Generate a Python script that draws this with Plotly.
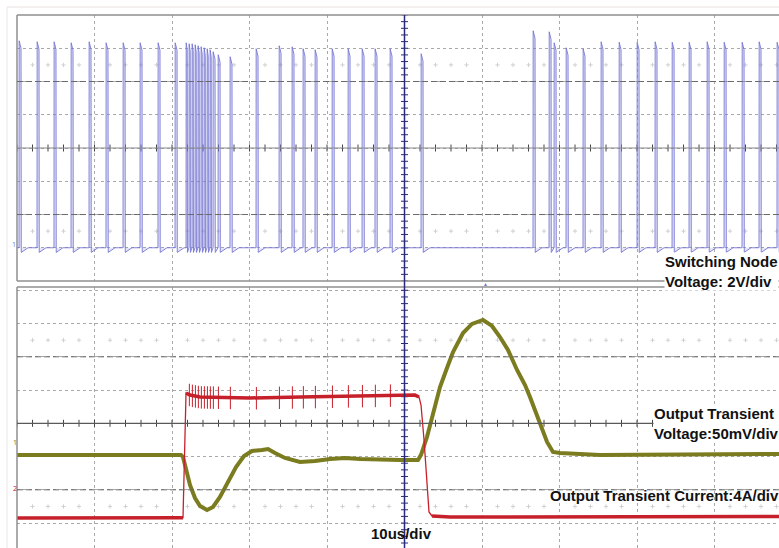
import plotly.graph_objects as go
import numpy as np

# ---------------- data (read from the scope capture) ----------------
# Switching node: pulse start times (us) and peak voltage (V), 2 V/div
sw_t_us = [0.26, 2.58, 4.77, 6.97, 9.29, 11.48, 13.68, 15.87, 18.19, 20.39,
           21.81, 22.19, 22.58, 22.97, 23.35, 23.74, 24.13, 24.52, 24.90, 25.29,
           25.94, 27.48, 30.84, 33.81, 35.48, 36.90, 38.45, 40.65, 42.71, 44.52,
           46.19, 48.13, 52.13, 66.58, 68.65, 69.29, 70.84, 73.03, 75.35, 77.68,
           80.00, 82.32, 84.52, 86.71, 89.03, 91.23, 93.55, 95.74, 98.06]
sw_peak_v = [12.45, 12.39, 12.39, 12.33, 12.39, 12.33, 12.33, 12.33, 12.33, 12.33,
             12.33, 12.27, 12.27, 12.21, 12.15, 12.09, 12.03, 11.97, 11.91, 11.79,
             11.61, 11.49, 11.97, 12.15, 12.09, 11.97, 11.91, 11.97, 11.97, 11.97,
             11.97, 11.97, 11.67, 13.05, 12.99, 12.33, 12.03, 11.97, 12.39, 12.36,
             12.36, 12.39, 12.36, 12.36, 12.39, 12.36, 12.36, 12.39, 12.36]

# Output voltage deviation (mV), 50 mV/div
vout_t_us = [0, 21.16, 21.42, 21.81, 22.32, 22.97, 23.61, 24.52, 25.29, 26.19,
             27.23, 28.26, 29.29, 30.32, 31.61, 32.39, 33.29, 34.58, 36.52, 38.45,
             40.39, 42.32, 44.26, 46.84, 49.42, 51.74, 52.13, 52.90, 53.68, 54.58,
             55.48, 56.26, 57.55, 58.71, 60.13, 61.29, 62.32, 63.35, 64.52, 65.55,
             66.19, 67.48, 68.39, 69.16, 70.06, 75.23, 88.13, 98.32]
vout_mv = [0, 0, -3.1, -22.7, -45.2, -64.8, -76.8, -82.8, -78.3, -63.3,
           -40.7, -18.2, -1.6, 5.9, 7.4, 8.9, 2.9, -4.6, -10.7, -9.2,
           -6.1, -4.6, -6.1, -7.6, -7.6, -7.6, 0.0, 26.9, 64.5, 102.1,
           130.7, 154.8, 183.3, 196.9, 202.9, 193.9, 177.3, 157.8, 127.7, 105.1,
           87.1, 48.0, 19.4, 4.4, 2.9, 0.0, 0.0, 1.4]

# Output load current (A), 4 A/div
iout_t_us = [0, 21.29, 21.42, 21.81, 22.32, 23.61, 30.06, 36.52, 42.97, 49.42,
             51.35, 51.87, 52.13, 52.52, 52.90, 53.16, 53.55, 55.87, 98.32]
iout_a = [0.21, 0.21, 0.25, 15.25, 15.0, 14.77, 14.65, 14.77, 14.89, 15.0,
          15.0, 14.77, 13.8, 9.6, 3.58, 0.93, 0.45, 0.33, 0.40]

labels = ["Switching Node<br>Voltage: 2V/div",
          "Output Transient<br>Voltage:50mV/div",
          "Output Transient Current:4A/div",
          "10us/div"]

# ---------------- styling constants ----------------
BLUE = "#7676d4"
RED = "#c6202b"
OLIVE = "#7b7b1f"
GRID = "#a9a9a9"
X_END = 98.32
PW = 0.26  # pulse width (us), shape only

# ---------------- build switching-node waveform from pulse list ----------------
sx, sy = [0.0], [0.0]
n = len(sw_t_us)
for i, (t, v) in enumerate(zip(sw_t_us, sw_peak_v)):
    nxt = sw_t_us[i + 1] if i + 1 < n else t + 3
    w = min(PW, 0.4 * (nxt - t))
    sx += [t, t + 0.02, t + w, t + w + 0.03, min(t + w + 0.9, nxt - 0.03)]
    sy += [0.0, v, v - 0.45, -0.28, 0.0]
sx.append(X_END + 1)
sy.append(0.0)

# current spikes at each switching event during the load step
spx, spy = [], []
for t in sw_t_us:
    if iout_t_us[3] < t < iout_t_us[11]:
        base = float(np.interp(t, iout_t_us, iout_a))
        spx += [t + 0.05, t + 0.05, None]
        spy += [base + 1.3, base - 1.4, None]

# flat (noise-band) segments of the current trace: thick; edges: thin
flat_segments = [(0, 2), (3, 11), (16, len(iout_t_us) - 1)]

fig = go.Figure()

# decorative scope graticule ticks
top_ticks_x = [2 * k for k in range(0, 50)]
fig.add_trace(go.Scatter(x=top_ticks_x, y=[6] * len(top_ticks_x), mode="markers",
                         marker=dict(symbol="line-ns", size=5, line=dict(width=1, color="#444")),
                         xaxis="x", yaxis="y", hoverinfo="skip"))
fig.add_trace(go.Scatter(x=top_ticks_x, y=[47.5] * len(top_ticks_x), mode="markers",
                         marker=dict(symbol="line-ns", size=5, line=dict(width=1, color="#444")),
                         xaxis="x2", yaxis="y2", hoverinfo="skip"))
dots_x = [2 * k for k in range(0, 50) if k % 5 != 0]
for yy, ax in [(1, "y"), (11, "y"), (-77.5, "y2"), (172.5, "y2")]:
    fig.add_trace(go.Scatter(x=dots_x, y=[yy] * len(dots_x), mode="markers",
                             marker=dict(symbol="cross-thin", size=3, line=dict(width=1, color="#d0d0d0")),
                             xaxis="x" if ax == "y" else "x2", yaxis=ax, hoverinfo="skip"))
vt_top = [-2 + 0.4 * k for k in range(0, 41)]
vt_bot = [-132.5 + 10 * k for k in range(0, 39)]
fig.add_trace(go.Scatter(x=[50] * len(vt_top), y=vt_top, mode="markers",
                         marker=dict(symbol="line-ew", size=5, line=dict(width=1, color="#2a2a7a")),
                         xaxis="x", yaxis="y", hoverinfo="skip"))
fig.add_trace(go.Scatter(x=[50] * len(vt_bot), y=vt_bot, mode="markers",
                         marker=dict(symbol="line-ew", size=5, line=dict(width=1, color="#2a2a7a")),
                         xaxis="x2", yaxis="y2", hoverinfo="skip"))

# switching node
fig.add_trace(go.Scatter(x=sx, y=sy, mode="lines", line=dict(color=BLUE, width=0.9),
                         fill="tozeroy", fillcolor="rgba(140,140,220,0.22)",
                         xaxis="x", yaxis="y"))
# output voltage
fig.add_trace(go.Scatter(x=vout_t_us, y=vout_mv, mode="lines",
                         line=dict(color=OLIVE, width=4), xaxis="x2", yaxis="y2"))
# output current: thin full trace + thick noise band on flat parts
fig.add_trace(go.Scatter(x=iout_t_us, y=iout_a, mode="lines",
                         line=dict(color=RED, width=1.3), xaxis="x2", yaxis="y3"))
for a, b in flat_segments:
    fig.add_trace(go.Scatter(x=iout_t_us[a:b + 1], y=iout_a[a:b + 1], mode="lines",
                             line=dict(color=RED, width=3.5), xaxis="x2", yaxis="y3"))
fig.add_trace(go.Scatter(x=spx, y=spy, mode="lines",
                         line=dict(color=RED, width=1), xaxis="x2", yaxis="y3"))

TOP_D = [0.5009, 1.0]
BOT_D = [0.0, 0.4897]
axcommon = dict(showticklabels=False, ticks="", zeroline=False, showline=False,
                showgrid=True, gridcolor=GRID, griddash="dot", gridwidth=1)

shapes = []
def line(x0, y0, x1, y1, xref, yref, color, width=1, dash="solid"):
    shapes.append(dict(type="line", x0=x0, y0=y0, x1=x1, y1=y1, xref=xref, yref=yref,
                       line=dict(color=color, width=width, dash=dash), layer="above"))

# panel borders
line(0, TOP_D[0], 1, TOP_D[0], "paper", "paper", "#8f8f8f", 1.5)
line(0, 1, 1, 1, "paper", "paper", "#8f8f8f", 1.5)
line(0, TOP_D[0], 0, 1, "paper", "paper", "#8f8f8f", 1.5)
line(0, BOT_D[1], 1, BOT_D[1], "paper", "paper", "#8f8f8f", 1.5)
line(0, 0, 0, BOT_D[1], "paper", "paper", "#8f8f8f", 1.5)
# outer faint frame
line(-0.0131, 1.015, 1, 1.015, "paper", "paper", "#e8e0e0", 1)
line(-0.0131, 0, -0.0131, 1.015, "paper", "paper", "#ece6e6", 1)
# +/-2 div dashed lines
for yy in (2, 10):
    line(0, yy, X_END, yy, "x", "y", "#6a6a6a", 1, "6px,3px")
for yy in (-52.5, 147.5):
    line(0, yy, X_END, yy, "x2", "y2", "#6a6a6a", 1, "6px,3px")
# center lines
line(0, 6, X_END, 6, "x", "y", "#8a8a8a", 1.2)
line(0, 47.5, X_END, 47.5, "x2", "y2", "#5a5a5a", 1.2)
line(50, 0, 50, 1, "x", "paper", "#2a2a7a", 1.5)

FONT = dict(size=15, color="#111", family="Liberation Sans, Arial")
annotations = [
    dict(text="<b>" + labels[0].replace("<br>", "</b><br><b>") + "</b>", x=0.849, y=0.5188,
         xref="paper", yref="paper", xanchor="left", yanchor="middle", align="left",
         showarrow=False, bgcolor="white", borderpad=0, font=FONT),
    dict(text="<b>" + labels[1].replace("<br>", "</b><br><b>") + "</b>", x=0.8346, y=0.2331,
         xref="paper", yref="paper", xanchor="left", yanchor="middle", align="left",
         showarrow=False, bgcolor="white", borderpad=0, font=FONT),
    dict(text="<b>" + labels[2] + "</b>", x=0.698, y=0.0994,
         xref="paper", yref="paper", xanchor="left", yanchor="middle",
         showarrow=False, borderpad=0, font=FONT),
    dict(text="<b>" + labels[3] + "</b>", x=0.5046, y=0.0272,
         xref="paper", yref="paper", xanchor="center", yanchor="middle",
         showarrow=False, borderpad=0, font=FONT),
    # channel markers
    dict(text="1", x=-0.008, y=(548 - 245) / 533, xref="paper", yref="paper",
         showarrow=False, font=dict(size=7, color=BLUE), borderpad=0),
    dict(text="1", x=-0.007, y=(548 - 448) / 533, xref="paper", yref="paper",
         showarrow=False, font=dict(size=7, color=OLIVE), borderpad=0),
    dict(text="2", x=-0.007, y=(548 - 494) / 533, xref="paper", yref="paper",
         showarrow=False, font=dict(size=7, color=RED), borderpad=0),
    dict(text="▲", x=(485 - 17) / 762, y=(548 - 284) / 533, xref="paper", yref="paper",
         showarrow=False, font=dict(size=5, color=BLUE), borderpad=0),
]

fig.update_layout(
    width=779, height=548,
    margin=dict(l=17, r=0, t=15, b=0),
    paper_bgcolor="white", plot_bgcolor="white",
    showlegend=False,
    xaxis=dict(domain=[0, 1], range=[0, X_END], dtick=10, tick0=0, anchor="y", **axcommon),
    xaxis2=dict(domain=[0, 1], range=[0, X_END], dtick=10, tick0=0, anchor="y2", matches="x", **axcommon),
    yaxis=dict(domain=TOP_D, range=[-2, 14], dtick=2, tick0=0, anchor="x", **axcommon),
    yaxis2=dict(domain=BOT_D, range=[-140, 252.5], dtick=50, tick0=-2.5, anchor="x2", **axcommon),
    yaxis3=dict(range=[-3.4, 28], overlaying="y2", anchor="x2", visible=False, showgrid=False),
    shapes=shapes,
    annotations=annotations,
)

fig.write_html("out.html")
